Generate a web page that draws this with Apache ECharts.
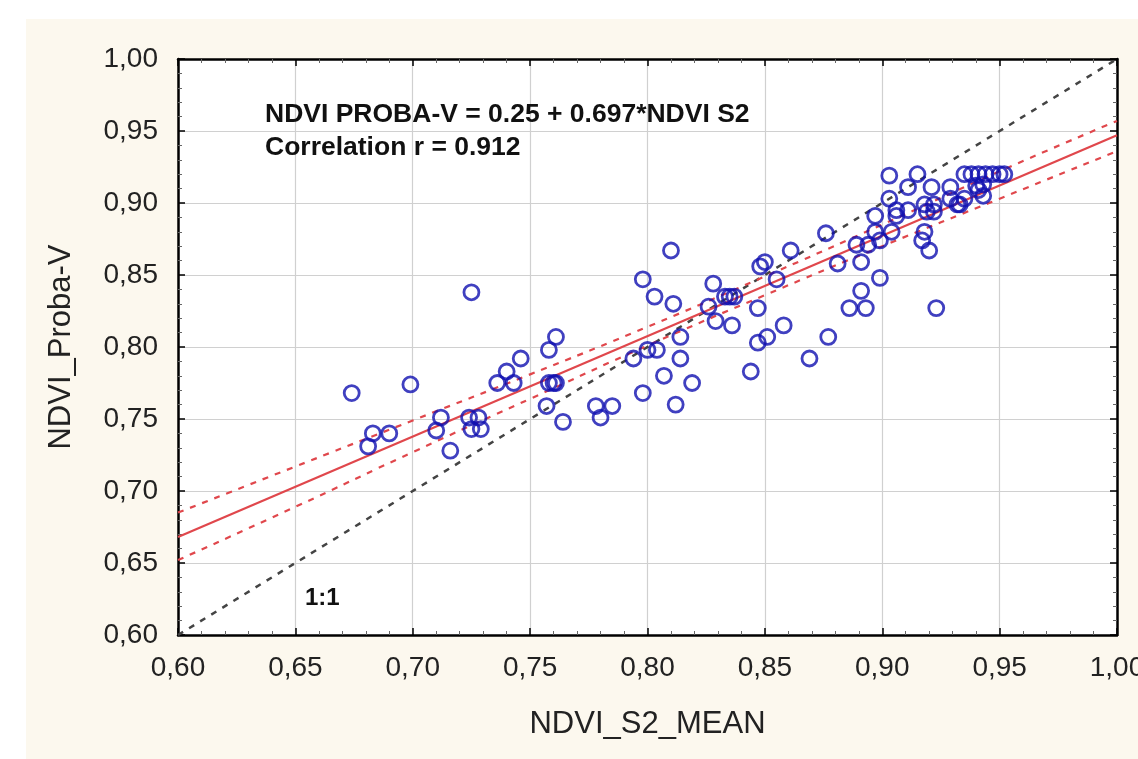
<!DOCTYPE html>
<html>
<head>
<meta charset="utf-8">
<script src="https://cdn.jsdelivr.net/npm/echarts@6/dist/echarts.min.js"></script>
<style>
html,body{margin:0;padding:0;background:#ffffff;overflow:hidden;}
#bg{position:absolute;left:26px;top:19px;width:1112px;height:740px;background:#fcf8ee;}
#chart{position:absolute;left:0;top:0;width:1138px;height:759px;}
</style>
</head>
<body>
<div id="bg"></div>
<div id="chart"></div>
<script>
// Observations: [NDVI_S2_MEAN, NDVI_Proba-V]
var points = [
[0.725,0.838],[0.674,0.768],[0.699,0.774],[0.736,0.775],[0.683,0.740],[0.690,0.740],[0.681,0.731],
[0.712,0.751],[0.710,0.742],[0.716,0.728],[0.724,0.751],[0.728,0.751],[0.725,0.743],[0.729,0.743],
[0.743,0.775],[0.740,0.783],[0.746,0.792],[0.758,0.798],[0.761,0.807],[0.758,0.775],[0.760,0.775],
[0.761,0.775],[0.757,0.759],[0.764,0.748],[0.778,0.759],[0.785,0.759],[0.780,0.751],[0.794,0.792],
[0.798,0.768],[0.800,0.798],[0.804,0.798],[0.798,0.847],[0.803,0.835],[0.810,0.867],[0.811,0.830],
[0.814,0.807],[0.814,0.792],[0.807,0.780],[0.819,0.775],[0.812,0.760],[0.826,0.828],[0.828,0.844],
[0.829,0.818],[0.833,0.835],[0.835,0.835],[0.837,0.835],[0.836,0.815],[0.847,0.827],[0.847,0.803],
[0.851,0.807],[0.844,0.783],[0.848,0.856],[0.850,0.859],[0.855,0.847],[0.858,0.815],[0.861,0.867],
[0.869,0.792],[0.876,0.879],[0.877,0.807],
[0.881,0.858],[0.886,0.827],[0.893,0.827],[0.891,0.839],[0.891,0.859],[0.899,0.848],[0.889,0.871],
[0.894,0.871],[0.897,0.880],[0.897,0.891],[0.899,0.874],[0.904,0.880],[0.903,0.903],[0.903,0.919],
[0.906,0.895],[0.906,0.891],[0.911,0.895],[0.911,0.911],[0.915,0.920],[0.921,0.911],[0.918,0.899],
[0.922,0.899],[0.919,0.894],[0.922,0.894],[0.918,0.880],[0.917,0.874],[0.920,0.867],[0.923,0.827],
[0.929,0.911],[0.929,0.903],[0.932,0.899],[0.935,0.903],[0.935,0.920],[0.938,0.920],[0.941,0.920],
[0.944,0.920],[0.947,0.920],[0.950,0.920],[0.952,0.920],[0.940,0.912],[0.943,0.913],[0.943,0.905],
[0.941,0.909],[0.933,0.899]
];
// Fitted line (read at the axis ends)
var fitLine = [[0.60,0.668],[1.00,0.947]];
// 95% confidence band
var bandX     = [0.60, 0.65, 0.70, 0.75, 0.80, 0.85, 0.90, 0.95, 1.00];
var bandUpper = [0.685,0.717,0.749,0.781,0.814,0.849,0.885,0.922,0.957];
var bandLower = [0.652,0.689,0.727,0.764,0.801,0.836,0.870,0.903,0.936];
// 1:1 reference line
var oneToOne = [[0.60,0.60],[1.00,1.00]];
// Axes
var xMin = 0.60, xMax = 1.00, yMin = 0.60, yMax = 1.00, step = 0.05;
var xTitle = 'NDVI_S2_MEAN';
var yTitle = 'NDVI_Proba-V';
var eqText = 'NDVI PROBA-V = 0.25 + 0.697*NDVI S2';
var corrText = 'Correlation r = 0.912';
var ratioText = '1:1';

var upperData = bandX.map(function(x,i){return [x,bandUpper[i]];});
var lowerData = bandX.map(function(x,i){return [x,bandLower[i]];});
function fmt(v){return v.toFixed(2).replace('.',',');}

var FONT = '"Liberation Sans", Arial, sans-serif';
var frame = {show:true, lineStyle:{color:'#000', width:2.5}};
var tick = {show:true, inside:true, length:7, lineStyle:{color:'#000', width:1.5}};
var minor = {show:true, splitNumber:5, length:4, lineStyle:{color:'#666', width:1}};
var grid = {show:true, lineStyle:{color:'#d0d0d0', width:1.2}};

var chart = echarts.init(document.getElementById('chart'), null, {renderer:'canvas'});
chart.setOption({
  backgroundColor:'transparent',
  animation:false,
  grid:{left:178, top:59, width:939, height:576, show:true, backgroundColor:'#ffffff',
        borderWidth:0, containLabel:false, outerBoundsMode:'none'},
  xAxis:[{
    type:'value', min:xMin, max:xMax, interval:step, position:'bottom',
    axisLine:frame, axisTick:tick, minorTick:minor, splitLine:grid,
    axisLabel:{formatter:fmt, fontFamily:FONT, fontSize:28, color:'#222', margin:19},
    name:xTitle, nameLocation:'middle', nameGap:74,
    nameTextStyle:{fontFamily:FONT, fontSize:31, color:'#222'}
  },{
    type:'value', min:xMin, max:xMax, interval:step, position:'top',
    axisLine:frame, axisTick:tick, minorTick:minor, splitLine:{show:false}, axisLabel:{show:false}
  }],
  yAxis:[{
    type:'value', min:yMin, max:yMax, interval:step, position:'left',
    axisLine:frame, axisTick:tick, minorTick:minor, splitLine:grid,
    axisLabel:{formatter:fmt, fontFamily:FONT, fontSize:28, color:'#222', margin:20},
    name:yTitle, nameLocation:'middle', nameGap:101,
    nameTextStyle:{fontFamily:FONT, fontSize:31, color:'#222'}
  },{
    type:'value', min:yMin, max:yMax, interval:step, position:'right',
    axisLine:frame, axisTick:tick, minorTick:minor, splitLine:{show:false}, axisLabel:{show:false}
  }],
  graphic:[
    {type:'text', left:265, top:101, z:100, style:{text:eqText, font:'bold 26.5px '+FONT, fill:'#111'}},
    {type:'text', left:265, top:134, z:100, style:{text:corrText, font:'bold 26.5px '+FONT, fill:'#111'}},
    {type:'text', left:305, top:586, z:100, style:{text:ratioText, font:'bold 24px '+FONT, fill:'#111'}}
  ],
  series:[
    {type:'line', data:oneToOne, symbol:'none', silent:true, z:2,
     lineStyle:{color:'#444', width:2.5, type:[6,7]}},
    {type:'line', data:upperData, symbol:'none', smooth:true, silent:true, z:3,
     lineStyle:{color:'#e0474c', width:2.2, type:[6,7]}},
    {type:'line', data:lowerData, symbol:'none', smooth:true, silent:true, z:3,
     lineStyle:{color:'#e0474c', width:2.2, type:[6,7]}},
    {type:'line', data:fitLine, symbol:'none', silent:true, z:3,
     lineStyle:{color:'#e0474c', width:2.2}},
    {type:'scatter', data:points, symbol:'circle', symbolSize:15, z:5,
     itemStyle:{color:'rgba(0,0,0,0)', borderColor:'#1010b0', borderWidth:2.8}}
  ]
});
</script>
</body>
</html>
